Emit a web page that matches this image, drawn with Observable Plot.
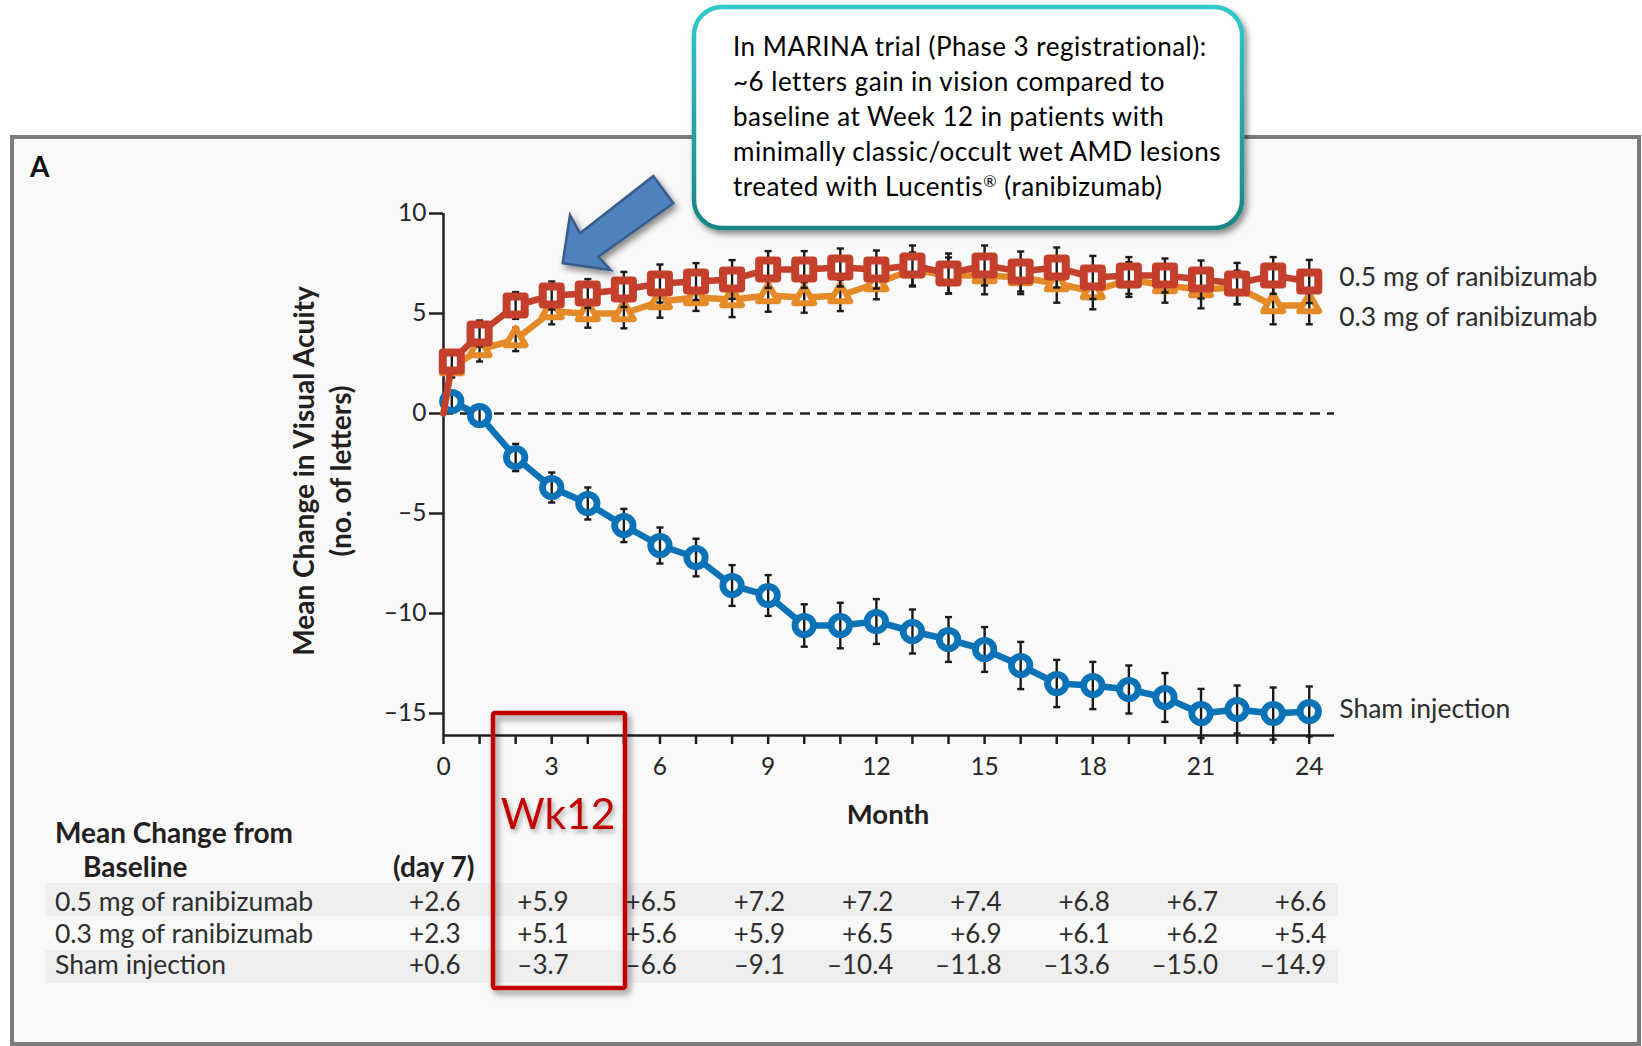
<!DOCTYPE html>
<html>
<head>
<meta charset="utf-8">
<script src="https://cdn.jsdelivr.net/npm/d3@7"></script>
<script src="https://cdn.jsdelivr.net/npm/@observablehq/plot@0.6"></script>
<style>
  html, body { margin: 0; padding: 0; background: #fff; }
  #chart { width: 1642px; height: 1046px; position: relative; }
</style>
</head>
<body>
<div id="chart"></div>
<script>
// Visit times in months (0 = baseline, 0.23 = day 7, then monthly to month 24)
const months = [0, 0.23, 1, 2, 3, 4, 5, 6, 7, 8, 9, 10, 11, 12, 13, 14, 15, 16, 17, 18, 19, 20, 21, 22, 23, 24];

// Mean change in visual acuity (letters) per arm
const dose05 = [0, 2.6, 4.0, 5.4, 5.9, 6.0, 6.2, 6.5, 6.6, 6.7, 7.2, 7.2, 7.3, 7.2, 7.4, 7.0, 7.4, 7.1, 7.3, 6.8, 6.9, 6.9, 6.7, 6.5, 6.9, 6.6];
const dose03 = [0, 2.3, 3.2, 3.7, 5.1, 5.0, 5.0, 5.6, 5.8, 5.7, 5.9, 5.8, 5.9, 6.5, 7.2, 6.9, 6.9, 6.8, 6.5, 6.1, 6.7, 6.4, 6.2, 6.3, 5.4, 5.4];
const sham   = [0, 0.6, -0.1, -2.2, -3.7, -4.5, -5.6, -6.6, -7.2, -8.6, -9.1, -10.6, -10.6, -10.4, -10.9, -11.3, -11.8, -12.6, -13.5, -13.6, -13.8, -14.2, -15.0, -14.8, -15.0, -14.9];

// Half-length of the error bars (no bar at baseline)
const err05   = [null, 0.5, 0.65, 0.67, 0.7, 0.72, 0.88, 0.95, 0.92, 0.97, 0.92, 0.92, 0.95, 0.95, 1.0, 1.0, 1.0, 1.0, 1.0, 1.08, 0.92, 0.85, 0.95, 1.03, 0.92, 1.08];
const err03   = [null, 0.5, 0.6, 0.58, 0.64, 0.71, 0.74, 0.81, 0.67, 0.88, 0.81, 0.76, 0.78, 0.79, 0.85, 0.9, 0.94, 0.83, 0.96, 0.89, 0.87, 0.86, 0.94, 0.84, 0.94, 0.94];
const errSham = [null, 0.35, 0.45, 0.68, 0.75, 0.8, 0.83, 0.9, 0.94, 1.02, 1.02, 1.06, 1.14, 1.12, 1.1, 1.12, 1.12, 1.18, 1.18, 1.18, 1.2, 1.22, 1.23, 1.2, 1.3, 1.25];

const seriesNames = ["0.5 mg of ranibizumab", "0.3 mg of ranibizumab", "Sham injection"];
const seriesColors = ["#c4402c", "#e58a28", "#0a72b6"];

// Timepoints reported in the table under the chart
const tableMonths = [0.23, 3, 6, 9, 12, 15, 18, 21, 24];

const yTicks = [-15, -10, -5, 0, 5, 10];
const xTicks = d3.range(0, 25);

const dash = (v) => (v < 0 ? "\u2013" + Math.abs(v) : String(v));
const signed = (v) => (v < 0 ? "\u2013" : "+") + Math.abs(v).toFixed(1);

// A short horizontal stroke used for the error-bar caps
const capSymbol = {
  draw(ctx, size) {
    const w = Math.sqrt(size) / 2;
    ctx.moveTo(-w, 0);
    ctx.lineTo(w, 0);
  }
};

const arms = [
  {name: seriesNames[2], values: sham, err: errSham, color: seriesColors[2], symbol: "circle", r: 9.2, sw: 6.8, labelDy: -2},
  {name: seriesNames[1], values: dose03, err: err03, color: seriesColors[1], symbol: "triangle", r: 7.4, sw: 6, labelDy: 12},
  {name: seriesNames[0], values: dose05, err: err05, color: seriesColors[0], symbol: "square", r: 10.2, sw: 8, labelDy: -4}
];

const armMarks = arms.flatMap((a) => {
  const pts = months.map((m, i) => ({m, v: a.values[i], e: a.err[i]}));
  const measured = pts.filter((d) => d.e != null);
  const last = measured[measured.length - 1];
  return [
    Plot.line(pts, {x: "m", y: "v", stroke: a.color, strokeWidth: 6.5, strokeLinejoin: "round"}),
    Plot.dot(measured, {x: "m", y: "v", symbol: a.symbol, r: a.r, fill: "#ffffff", stroke: "none"}),
    Plot.ruleX(measured, {x: "m", y1: (d) => d.v - d.e, y2: (d) => d.v + d.e, stroke: "#1a1a1a", strokeWidth: 2.4}),
    Plot.dot(measured, {x: "m", y: (d) => d.v - d.e, symbol: capSymbol, r: 4, fill: "none", stroke: "#1a1a1a", strokeWidth: 2.4}),
    Plot.dot(measured, {x: "m", y: (d) => d.v + d.e, symbol: capSymbol, r: 4, fill: "none", stroke: "#1a1a1a", strokeWidth: 2.4}),
    Plot.dot(measured, {x: "m", y: "v", symbol: a.symbol, r: a.r, fill: "none", stroke: a.color, strokeWidth: a.sw, strokeLinejoin: "round"}),
    Plot.text([last], {x: "m", y: "v", text: () => a.name, textAnchor: "start", lineAnchor: "middle", dx: 30, dy: a.labelDy, fontSize: 26.5, fill: "#2e2e2e"})
  ];
});

const tableRows = [
  {values: dose05, dy: 167},
  {values: dose03, dy: 199},
  {values: sham, dy: 230}
];
const tableMarks = tableRows.map((row) =>
  Plot.text(tableMonths.map((m) => ({col: Math.floor(m), v: row.values[months.indexOf(m)]})), {
    x: "col",
    text: (d) => signed(d.v),
    frameAnchor: "bottom",
    lineAnchor: "middle",
    dy: row.dy,
    dx: 17,
    textAnchor: "end",
    fontSize: 26,
    fill: "#2e2e2e"
  })
);

const svg = Plot.plot({
  width: 1642,
  height: 1046,
  marginLeft: 443,
  marginRight: 308,
  marginTop: 213,
  marginBottom: 311,
  style: {fontFamily: "Lato, 'Open Sans', sans-serif", fontSize: "23px", background: "transparent", color: "#231f20"},
  x: {domain: [0, 24.7], axis: null},
  y: {domain: [-16.1, 10], axis: null},
  marks: [
    Plot.ruleY([0], {stroke: "#231f20", strokeWidth: 2.5, strokeDasharray: "10,7"}),
    Plot.ruleX([0], {stroke: "#231f20", strokeWidth: 2.5}),
    Plot.ruleY([-16.1], {stroke: "#231f20", strokeWidth: 2.5}),
    Plot.axisY({ticks: yTicks, tickSize: 14, tickPadding: 3, tickFormat: dash, stroke: "#231f20", strokeWidth: 2.5, fill: "#262626", fontSize: 24.5, label: null}),
    Plot.axisX({ticks: xTicks, tickSize: 9, tickPadding: 13, tickFormat: (d) => (d % 3 === 0 ? String(d) : ""), stroke: "#231f20", strokeWidth: 2.5, fill: "#262626", fontSize: 24.5, label: null}),
    ...armMarks,
    ...tableMarks
  ]
});

document.getElementById("chart").appendChild(svg);

// ---- panel, table shading, titles and callouts ----
const s = d3.select(svg);
const defs = s.append("defs");
const shadow = defs.append("filter").attr("id", "dropShadow")
  .attr("x", "-20%").attr("y", "-20%").attr("width", "140%").attr("height", "140%");
shadow.append("feDropShadow").attr("dx", 3).attr("dy", 4).attr("stdDeviation", 3)
  .attr("flood-color", "#000").attr("flood-opacity", 0.45);
const softShadow = defs.append("filter").attr("id", "textShadow")
  .attr("x", "-20%").attr("y", "-20%").attr("width", "140%").attr("height", "140%");
softShadow.append("feDropShadow").attr("dx", 2).attr("dy", 3).attr("stdDeviation", 2.5)
  .attr("flood-color", "#000").attr("flood-opacity", 0.35);
const teal = defs.append("linearGradient").attr("id", "tealEdge")
  .attr("x1", 0).attr("y1", 0).attr("x2", 0).attr("y2", 1);
teal.append("stop").attr("offset", "0%").attr("stop-color", "#34c8c8");
teal.append("stop").attr("offset", "100%").attr("stop-color", "#1a8585");

const back = s.insert("g", ":first-child");
back.append("rect").attr("x", 12).attr("y", 137).attr("width", 1627).attr("height", 907)
  .attr("fill", "#f9f9f9").attr("stroke", "#7a7a7a").attr("stroke-width", 4);
back.append("rect").attr("x", 45).attr("y", 883).attr("width", 1293).attr("height", 33).attr("fill", "#efefef");
back.append("rect").attr("x", 45).attr("y", 950).attr("width", 1293).attr("height", 33).attr("fill", "#efefef");

const front = s.append("g").attr("font-family", "Lato, 'Open Sans', sans-serif").attr("text-anchor", "start");

front.append("text").attr("x", 30).attr("y", 177).attr("font-size", 28).attr("font-weight", 700)
  .attr("fill", "#111").text("A");

front.append("text").attr("transform", "translate(303,471) rotate(-90)")
  .attr("text-anchor", "middle").attr("dominant-baseline", "central")
  .attr("font-size", 28).attr("font-weight", 700).attr("fill", "#231f20")
  .text("Mean Change in Visual Acuity");
front.append("text").attr("transform", "translate(340,471) rotate(-90)")
  .attr("text-anchor", "middle").attr("dominant-baseline", "central")
  .attr("font-size", 28).attr("font-weight", 700).attr("fill", "#231f20")
  .text("(no. of letters)");

front.append("text").attr("x", 888).attr("y", 824).attr("text-anchor", "middle")
  .attr("font-size", 27.5).attr("font-weight", 700).attr("fill", "#231f20").text("Month");

front.append("text").attr("x", 55).attr("y", 843).attr("font-size", 28).attr("font-weight", 700)
  .attr("fill", "#231f20").text("Mean Change from");
front.append("text").attr("x", 83).attr("y", 877).attr("font-size", 28).attr("font-weight", 700)
  .attr("fill", "#231f20").text("Baseline");
front.append("text").attr("x", 393).attr("y", 877).attr("font-size", 28).attr("font-weight", 700)
  .attr("fill", "#231f20").text("(day 7)");

[901.7, 934, 965].forEach((yc, i) => {
  front.append("text").attr("x", 55).attr("y", yc).attr("dy", "0.35em")
    .attr("font-size", 26.5).attr("fill", "#2e2e2e").text(seriesNames[i]);
});

// Week-12 highlight box
front.append("rect").attr("x", 493).attr("y", 713).attr("width", 132).attr("height", 275).attr("rx", 2)
  .attr("fill", "none").attr("stroke", "#c00000").attr("stroke-width", 4.5).attr("filter", "url(#dropShadow)");
front.append("text").attr("x", 558).attr("y", 829).attr("text-anchor", "middle")
  .attr("font-size", 42.5).attr("fill", "#c00000").attr("filter", "url(#textShadow)").text("Wk12");

// Pointer arrow
front.append("polygon")
  .attr("points", [[562.7, 263.3], [570, 215], [580, 233.3], [653.3, 176], [673.3, 203.3], [598.3, 256.7], [610.7, 270]].map((p) => p.join(",")).join(" "))
  .attr("fill", "#4f81bd").attr("stroke", "#385d8a").attr("stroke-width", 2.5).attr("stroke-linejoin", "miter")
  .attr("filter", "url(#dropShadow)");

// Callout box
const callout = front.append("g");
callout.append("rect").attr("x", 694).attr("y", 7).attr("width", 548).attr("height", 221).attr("rx", 28)
  .attr("fill", "#ffffff").attr("stroke", "url(#tealEdge)").attr("stroke-width", 4.5).attr("filter", "url(#dropShadow)");
const calloutLines = [
  "In MARINA trial (Phase 3 registrational):",
  "~6 letters gain in vision compared to",
  "baseline at Week 12 in patients with",
  "minimally classic/occult wet AMD lesions"
];
calloutLines.forEach((t, i) => {
  callout.append("text").attr("x", 733).attr("y", 46.7 + 35 * i).attr("dy", "0.35em")
    .attr("font-size", 26).attr("letter-spacing", 0.5).attr("fill", "#000").text(t);
});
const last = callout.append("text").attr("x", 733).attr("y", 46.7 + 35 * 4).attr("dy", "0.35em")
  .attr("font-size", 26).attr("letter-spacing", 0.5).attr("fill", "#000");
last.append("tspan").text("treated with Lucentis");
last.append("tspan").attr("font-size", 16).attr("dy", -9).text("\u00ae");
last.append("tspan").attr("dy", 9).text(" (ranibizumab)");
</script>
</body>
</html>
